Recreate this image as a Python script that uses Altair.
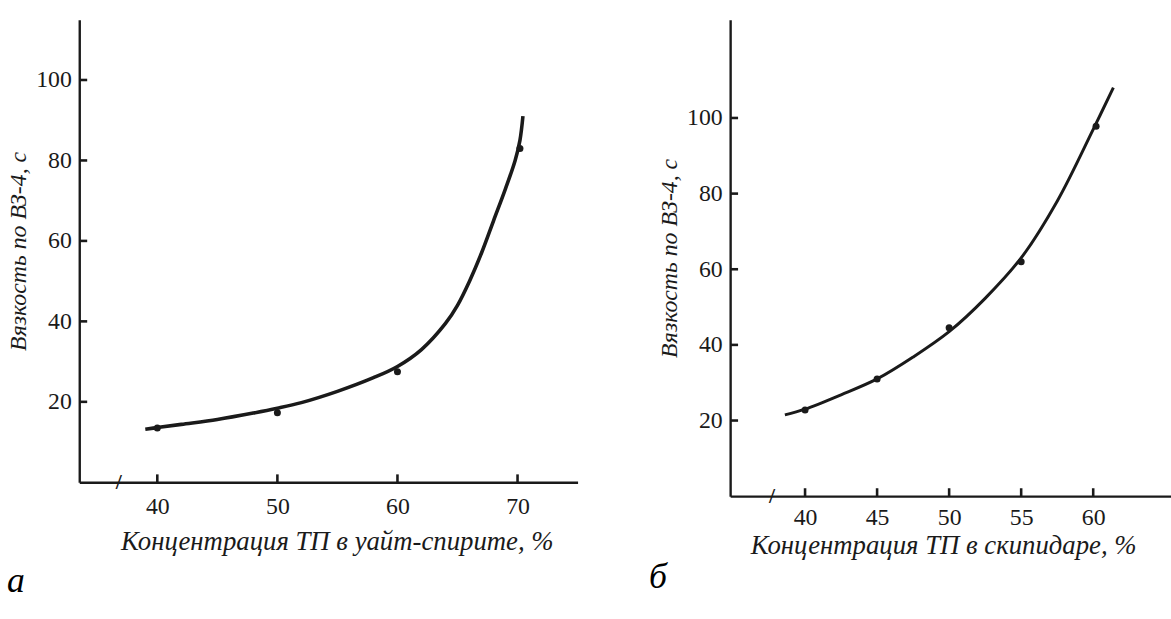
import altair as alt
import pandas as pd

# ---------------- data ----------------
# Panel а: concentration in white spirit
a_curve_x = [39.0, 40.0, 42.0, 45.0, 48.0, 50.0, 52.0, 55.0, 58.0, 60.0, 62.0, 64.0, 65.0, 66.0, 67.0, 68.0, 69.0, 69.8, 70.2, 70.45]
a_curve_y = [13.2, 13.6, 14.4, 15.6, 17.2, 18.4, 19.8, 22.6, 26.0, 28.8, 33.0, 39.5, 44.0, 50.0, 57.0, 65.0, 73.0, 80.0, 85.0, 91.0]
a_pts_x = [40, 50, 60, 70.2]
a_pts_y = [13.5, 17.3, 27.5, 83.0]
a_xticks = [40, 50, 60, 70]
a_yticks = [20, 40, 60, 80, 100]
a_xtitle = "Концентрация ТП в уайт-спирите, %"

# Panel б: concentration in turpentine
b_curve_x = [38.6, 40.0, 42.5, 45.0, 47.5, 50.0, 52.5, 55.0, 57.5, 60.0, 61.4]
b_curve_y = [21.5, 23.0, 26.8, 31.0, 36.8, 43.5, 52.3, 63.0, 78.0, 97.0, 108.0]
b_pts_x = [40, 45, 50, 55, 60.2]
b_pts_y = [22.8, 31.0, 44.5, 62.0, 97.8]
b_xticks = [40, 45, 50, 55, 60]
b_yticks = [20, 40, 60, 80, 100]
b_xtitle = "Концентрация ТП в скипидаре, %"

ytitle = "Вязкость по ВЗ-4, с"

FONT = "Liberation Serif"
INK = "#1a1a1a"


def panel(cx, cy, px, py, xdom, ydom, xticks, yticks, xtitle, label,
          w, h, brk_x, line_w, x_label_pad, x_title_pad, title_x,
          label_offset, label_dx):
    curve = pd.DataFrame({"x": cx, "y": cy})
    pts = pd.DataFrame({"x": px, "y": py})
    xt = pd.DataFrame({"x": xticks, "y": [ydom[0]] * len(xticks)})
    yt = pd.DataFrame({"x": [xdom[0]] * len(yticks), "y": yticks})
    brk = pd.DataFrame({"x": [brk_x], "y": [ydom[0]]})

    xs = alt.Scale(domain=xdom, nice=False, zero=False)
    ys = alt.Scale(domain=ydom, nice=False, zero=False)
    xax = alt.Axis(values=xticks, title=xtitle, ticks=False, grid=False,
                   domainColor=INK, domainWidth=2.4,
                   labelFont=FONT, labelFontSize=24, labelColor=INK, labelPadding=x_label_pad,
                   titleFont=FONT, titleFontStyle="italic", titleFontSize=27,
                   titleFontWeight="normal", titleColor=INK, titlePadding=x_title_pad,
                   titleX=title_x)
    yax = alt.Axis(values=yticks, title=ytitle, ticks=False, grid=False,
                   domainColor=INK, domainWidth=2.4,
                   labelFont=FONT, labelFontSize=24, labelColor=INK, labelPadding=8,
                   titleFont=FONT, titleFontStyle="italic", titleFontSize=24,
                   titleFontWeight="normal", titleColor=INK, titlePadding=5)
    X = alt.X("x:Q", scale=xs, axis=xax)
    Y = alt.Y("y:Q", scale=ys, axis=yax)

    xtk = alt.Chart(xt).mark_tick(color=INK, orient="vertical", size=8, thickness=2.6,
                                  yOffset=-4, opacity=1).encode(x=X, y=Y)
    ytk = alt.Chart(yt).mark_tick(color=INK, orient="horizontal", size=8, thickness=2.6,
                                  xOffset=4, opacity=1).encode(x=X, y=Y)
    line = alt.Chart(curve).mark_line(color=INK, strokeWidth=line_w,
                                      interpolate="catmull-rom").encode(x=X, y=Y)
    dots = alt.Chart(pts).mark_circle(color=INK, opacity=1, size=50).encode(x=X, y=Y)
    br = alt.Chart(brk).mark_text(text="/", font=FONT, fontSize=22, fontWeight="bold",
                                  color=INK, baseline="middle").encode(x=X, y=Y)

    return alt.layer(line, dots, xtk, ytk, br).properties(
        width=w, height=h,
        title=alt.TitleParams(text=label, orient="bottom", anchor="start", frame="bounds",
                              font=FONT, fontStyle="italic", fontSize=36,
                              fontWeight="normal", color="#000",
                              offset=label_offset, dx=label_dx),
    )


pa = panel(a_curve_x, a_curve_y, a_pts_x, a_pts_y, [33.5, 75.0], [0, 115],
           a_xticks, a_yticks, a_xtitle, "а", 503, 467, 36.8, 3.6,
           13, 10, 260, 10, 0)
pb = panel(b_curve_x, b_curve_y, b_pts_x, b_pts_y, [34.8, 65.4], [0, 126],
           b_xticks, b_yticks, b_xtitle, "б", 445, 481, 37.7, 3.0,
           10, 3, 215, 2, -9)

chart = alt.hconcat(pa, pb, spacing=72).properties(
    padding={"left": 7, "top": 17, "right": 0, "bottom": 0},
    background="white",
).configure_view(stroke=None)

chart.save("out.html", embed_options={"renderer": "svg", "actions": False})
